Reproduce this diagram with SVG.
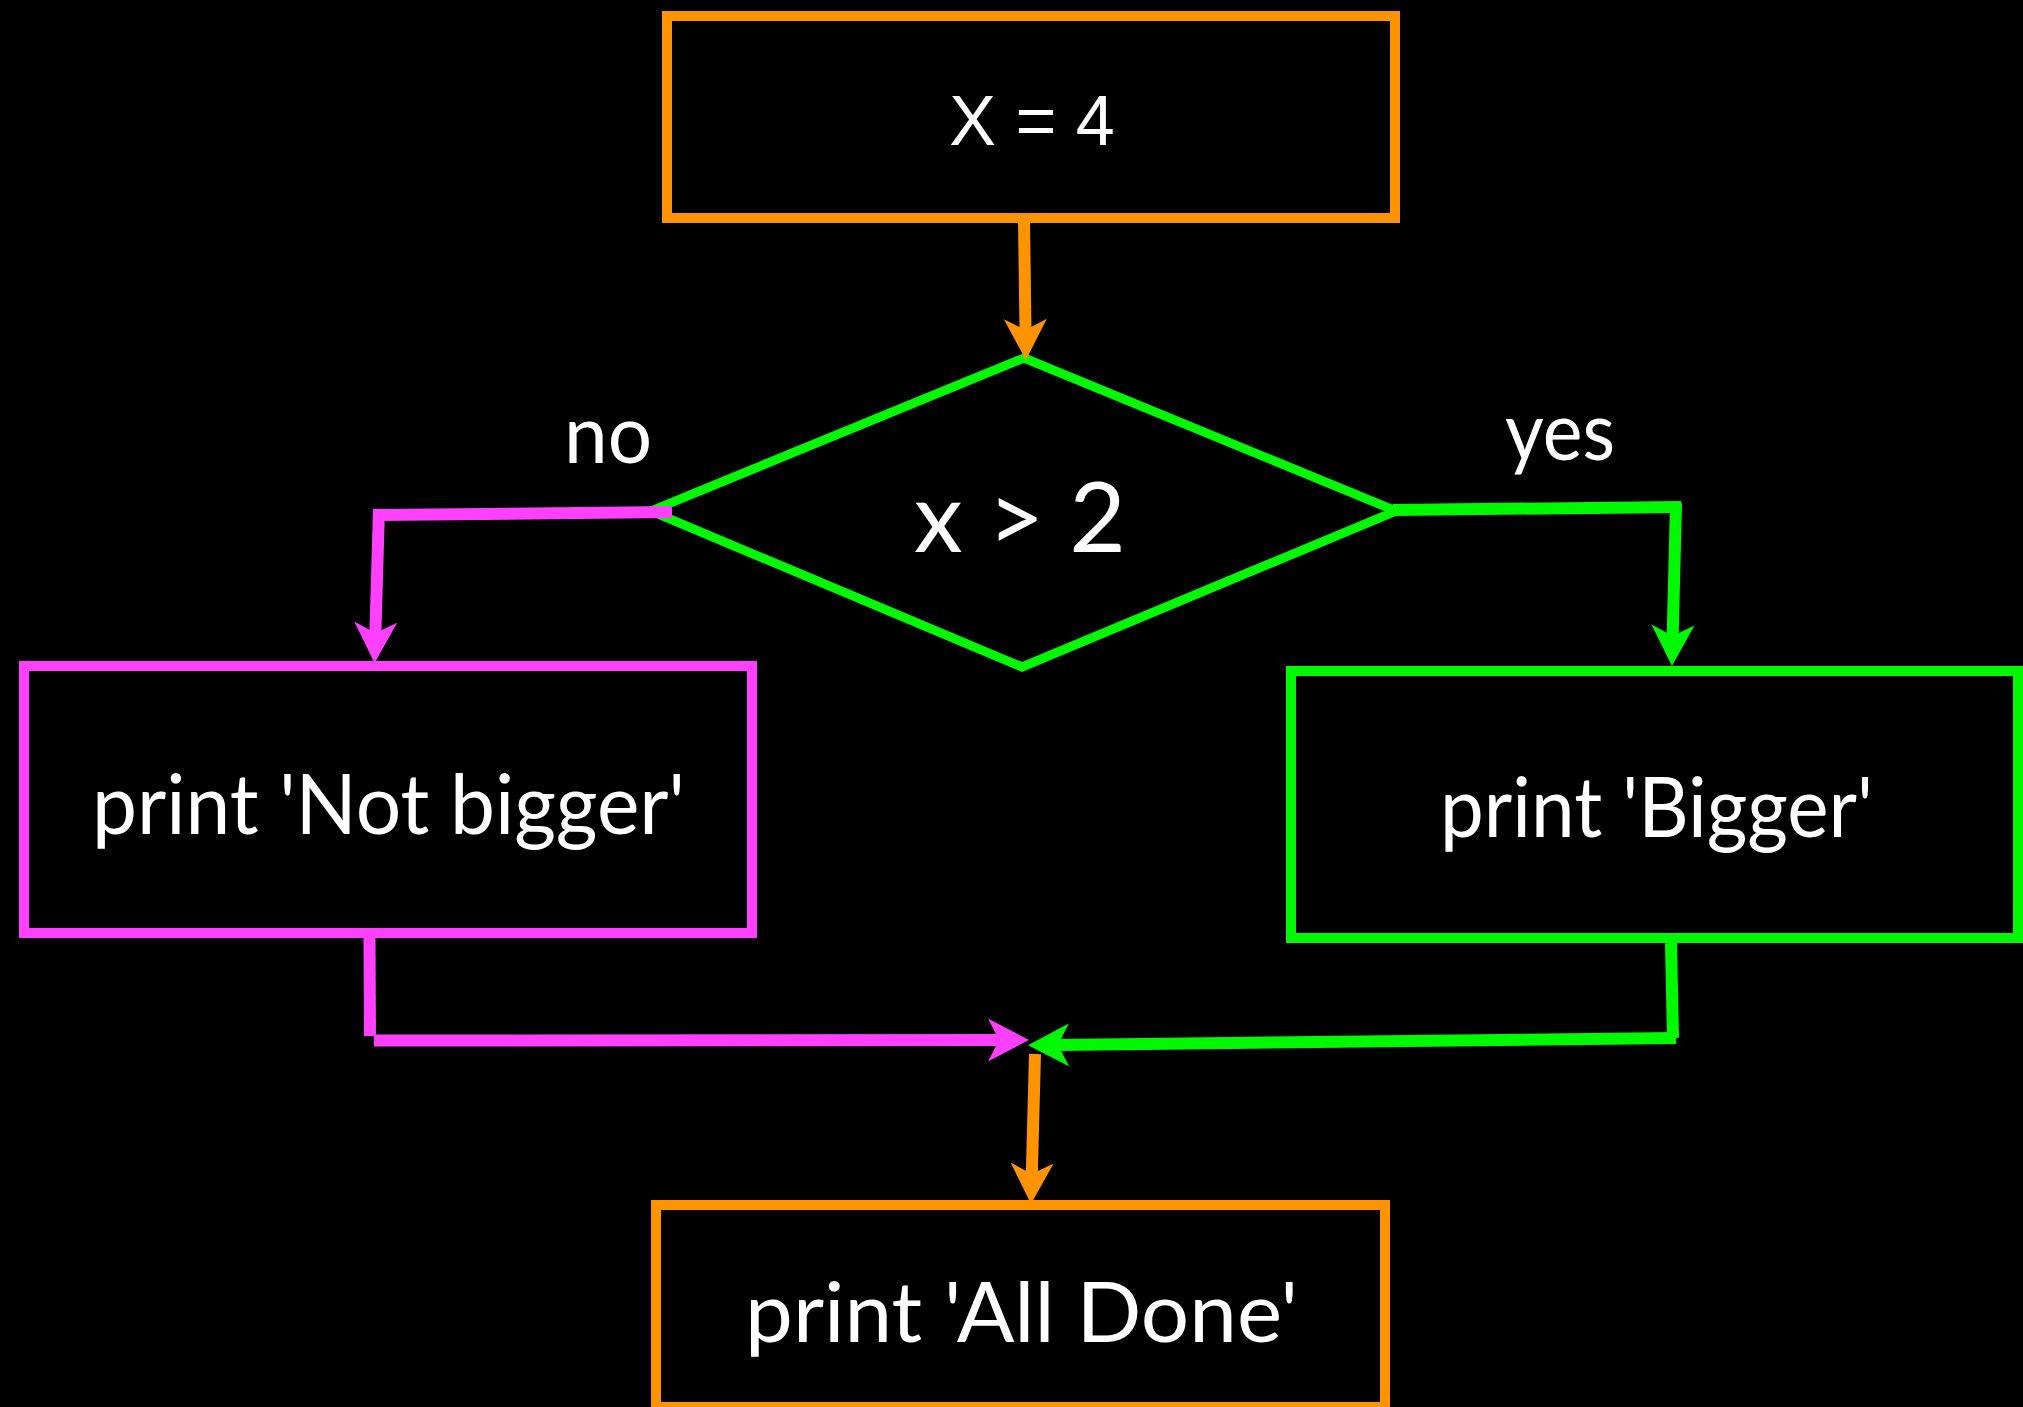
<svg xmlns="http://www.w3.org/2000/svg" width="2023" height="1407" viewBox="0 0 2023 1407">
<style>
.bg{fill:#000}
.box{fill:#000;stroke-width:10}
.or{stroke:#FF9300}
.pk{stroke:#FF40FF}
.gr{stroke:#00F900}
.dia{fill:#000;stroke:#00F900;stroke-width:9;stroke-linejoin:miter}
.ln{fill:none;stroke-width:12;stroke-linecap:butt}
.t{fill:#fff;font-family:Lato,"Open Sans","Liberation Sans",sans-serif}
.bt{font-size:84px}
.lb{font-size:82px}
</style>
<defs>
<marker id="aO" markerUnits="userSpaceOnUse" viewBox="0 -22 41 44" markerWidth="41" markerHeight="44" refX="11" refY="0" orient="auto">
<path d="M0,-21.5 L41,0 L0,21.5 L11,0 Z" fill="#FF9300"/>
</marker>
<marker id="aP" markerUnits="userSpaceOnUse" viewBox="0 -22 41 44" markerWidth="41" markerHeight="44" refX="11" refY="0" orient="auto">
<path d="M0,-21.5 L41,0 L0,21.5 L11,0 Z" fill="#FF40FF"/>
</marker>
<marker id="aG" markerUnits="userSpaceOnUse" viewBox="0 -22 41 44" markerWidth="41" markerHeight="44" refX="11" refY="0" orient="auto">
<path d="M0,-21.5 L41,0 L0,21.5 L11,0 Z" fill="#00F900"/>
</marker>
</defs>
<rect class="bg" x="0" y="0" width="2023" height="1407"/>

<g id="node-x4">
<rect class="box or" x="667" y="16" width="728" height="202"/>
<text class="t" x="1032" y="145" font-size="70" text-anchor="middle" style="font-family:'Liberation Sans',Arial,sans-serif">X = 4</text>
</g>

<g id="node-decision">
<polygon class="dia" points="1024,358 1396,511 1022,667 651,511"/>
<text class="t" x="914" y="552" font-size="97" textLength="212" lengthAdjust="spacingAndGlyphs">x &gt; 2</text>
</g>

<g id="node-notbigger">
<rect class="box pk" x="24" y="666" width="728" height="267"/>
<text class="t bt" x="92" y="834" textLength="593" lengthAdjust="spacingAndGlyphs">print 'Not bigger'</text>
</g>

<g id="node-bigger">
<rect class="box gr" x="1291" y="671" width="727" height="267"/>
<text class="t bt" x="1440" y="837" textLength="433" lengthAdjust="spacingAndGlyphs">print 'Bigger'</text>
</g>

<g id="node-alldone">
<rect class="box or" x="656" y="1205" width="729" height="202"/>
<text class="t bt" x="745" y="1342" textLength="553" lengthAdjust="spacingAndGlyphs">print 'All Done'</text>
</g>

<g id="labels">
<text class="t lb" x="564" y="463" textLength="88" lengthAdjust="spacingAndGlyphs">no</text>
<text class="t lb" x="1505" y="460" textLength="110" lengthAdjust="spacingAndGlyphs">yes</text>
</g>

<g id="connectors">
<path class="ln or" d="M1024,221 L1025.5,330" marker-end="url(#aO)"/>
<path class="ln pk" d="M672,512 L378,515"/>
<path class="ln pk" d="M379,509 L375.4,633" marker-end="url(#aP)"/>
<path class="ln gr" d="M1393,510 L1681,507"/>
<path class="ln gr" d="M1676,503 L1672.7,636" marker-end="url(#aG)"/>
<path class="ln pk" d="M369.5,938 L370,1036"/>
<path class="ln pk" d="M374,1040.5 L999,1040" marker-end="url(#aP)"/>
<path class="ln gr" d="M1671,943 L1673,1038"/>
<path class="ln gr" d="M1676,1038 L1058,1045" marker-end="url(#aG)"/>
<path class="ln or" d="M1035,1054 L1031.8,1174" marker-end="url(#aO)"/>
</g>
</svg>
